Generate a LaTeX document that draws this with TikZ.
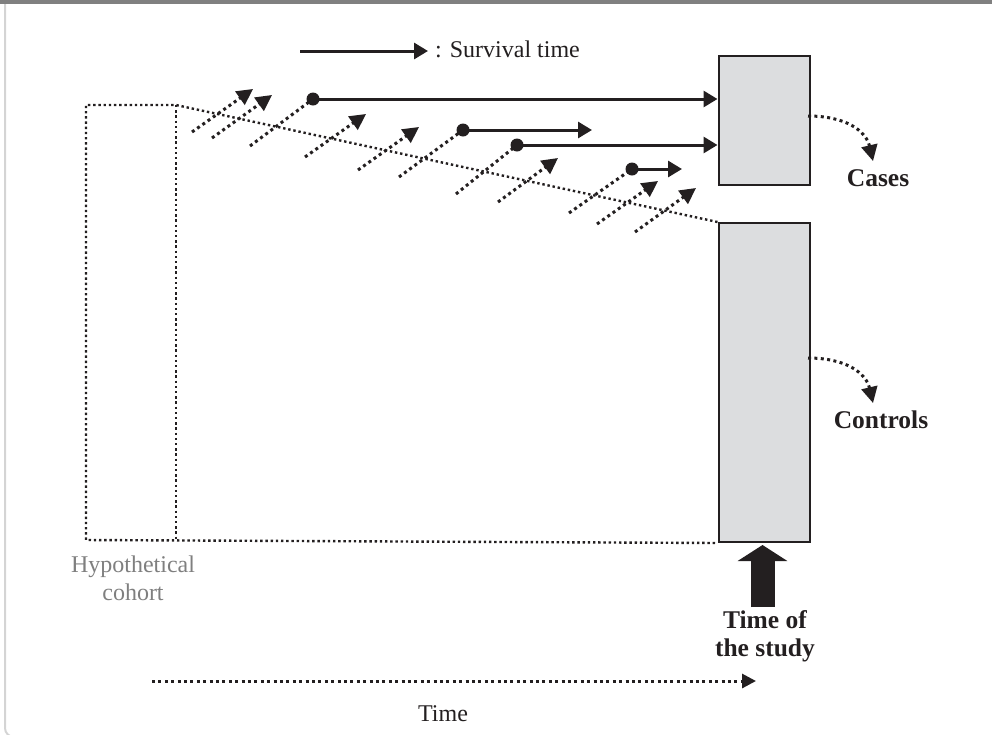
\documentclass[tikz,border=0pt]{standalone}
\usepackage{fontspec}
\setmainfont{Liberation Serif}
\usetikzlibrary{arrows.meta}

\definecolor{ink}{HTML}{231F20}
\definecolor{boxfill}{HTML}{DCDDDF}
\definecolor{cohortgray}{HTML}{7F7F7F}
\definecolor{framegray}{HTML}{808080}
\definecolor{edgegray}{HTML}{D4D4D4}

\begin{document}
\begin{tikzpicture}[x=1pt,y=-1pt,
  entryline/.style={ink, line width=3pt, dash pattern=on 3pt off 3.4pt},
  entry/.style={entryline, -{Triangle[length=16pt,width=16pt]}},
  survival/.style={ink, line width=3pt, -{Triangle[length=14pt,width=16pt]}},
  onset/.style={circle, fill=ink, inner sep=0pt, minimum size=13pt},
  cohort/.style={ink, line width=2.4pt, dash pattern=on 2.4pt off 2.8pt},
  groupbox/.style={draw=ink, fill=boxfill, line width=2pt, inner sep=0pt,
    minimum width=91pt, anchor=north west},
  grouplabel/.style={font=\fontsize{25.5}{28}\selectfont\bfseries, text=ink, inner sep=0pt},
  plain/.style={font=\fontsize{24}{28}\selectfont, text=ink, inner sep=0pt},
]
\useasboundingbox (0,0) rectangle (992,734);

% page frame
\draw[framegray, line width=4pt] (0,2) -- (992,2);
\draw[edgegray, line width=2pt, rounded corners=9pt] (5,4) -- (5,737) -- (40,737);
\draw[edgegray, line width=2pt, rounded corners=9pt] (960,738) -- (996,738) -- (996,690);

% legend
\coordinate (legA) at (300,51);
\coordinate (legB) at (428,51);
\draw[survival] (legA) -- (legB);
\node[plain, anchor=base west] (legtext) at (435,57) {: Survival time};

% case and control groups at the time of the study
\node[groupbox, minimum height=129pt] (cases) at (717.5,55) {};
\node[groupbox, minimum height=319pt] (controls) at (717.5,222) {};

% hypothetical cohort outline
\coordinate (c1) at (86,105);
\coordinate (c2) at (176,105);
\coordinate (c3) at (176,540);
\coordinate (c4) at (86,540);
\draw[cohort] (controls.north west) -- (c2) -- (c1) -- (c4) -- (controls.south west);
\draw[cohort] (c2) -- (c3);
\node[plain, text=cohortgray, align=center, anchor=base] (cohortlabel) at (133,600)
  {Hypothetical\\cohort};

% entries into the cohort
\foreach \n/\sx/\sy/\ex/\ey in {1/192/132/253/89, 2/212/138/272/95, 3/305/157/366/114,
    4/358/170/419/127, 5/498/202/558/158, 6/597/224/658/181, 7/635/232/696/188} {
  \coordinate (s\n) at (\sx,\sy);
  \coordinate (t\n) at (\ex,\ey);
  \draw[entry] (s\n) -- (t\n);
}

% disease onsets and survival times
\node[onset] (o1) at (313,99) {};
\node[onset] (o2) at (463,130) {};
\node[onset] (o3) at (517,145) {};
\node[onset] (o4) at (632,169) {};
\coordinate (q1) at (250,146);
\coordinate (q2) at (399,177);
\coordinate (q3) at (456,194);
\coordinate (q4) at (569,213);
\foreach \n in {1,2,3,4} { \draw[entryline] (q\n) -- (o\n.center); }
\coordinate (e2) at (592,130);
\coordinate (e4) at (682,169);
\draw[survival] (o1.center) -- (o1 -| cases.west);
\draw[survival] (o2.center) -- (e2);
\draw[survival] (o3.center) -- (o3 -| cases.west);
\draw[survival] (o4.center) -- (e4);

% selection of cases and controls
\coordinate (casesout) at (808,116);
\coordinate (casestip) at (873,161);
\coordinate (ctrlout) at (808,358);
\coordinate (ctrltip) at (873,403);
\draw[entry] (casesout) .. controls (846,116) and (866,131) .. (casestip);
\draw[entry] (ctrlout) .. controls (846,358) and (866,373) .. (ctrltip);
\node[grouplabel, anchor=base] (caseslabel) at (878,186) {Cases};
\node[grouplabel, anchor=base] (controlslabel) at (881,428) {Controls};

% time of the study
\coordinate (studybase) at (762.5,607);
\coordinate (studytip) at (762.5,545);
\draw[ink, line width=24pt, -{Triangle[length=16pt,width=49pt]}] (studybase) -- (studytip);
\node[grouplabel, align=center, anchor=base] (studylabel) at (765,656) {Time of\\the study};

% time axis
\coordinate (timeA) at (152,681);
\coordinate (timeB) at (756,681);
\draw[entryline, -{Triangle[length=14pt,width=14pt]}] (timeA) -- (timeB);
\node[plain, anchor=base] (timelabel) at (443,721) {Time};
\end{tikzpicture}
\end{document}
